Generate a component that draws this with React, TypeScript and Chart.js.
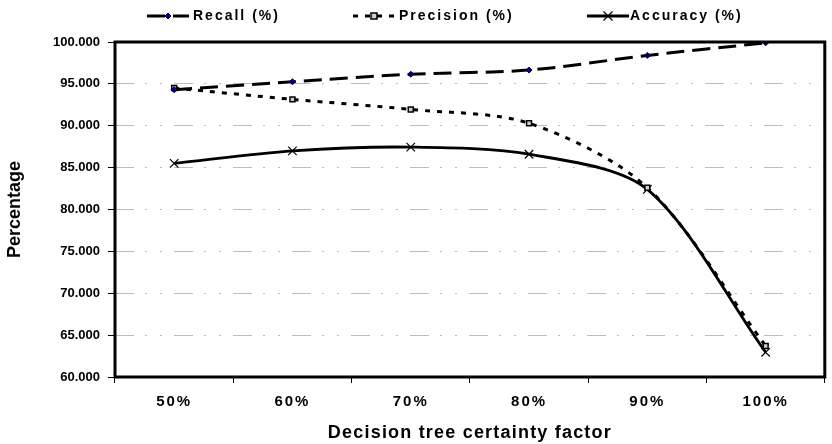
import React, { useEffect, useRef } from 'react';
import { Chart, registerables } from 'chart.js';

Chart.register(...registerables);

const categories = ['50%', '60%', '70%', '80%', '90%', '100%'];
const recall = [94.3, 95.25, 96.15, 96.65, 98.4, 99.9];
const precision = [94.5, 93.15, 91.95, 90.3, 82.6, 63.7];
const accuracy = [85.5, 87.0, 87.45, 86.6, 82.4, 62.95];
const seriesNames = ['Recall (%)', 'Precision (%)', 'Accuracy (%)'];
const yTicks = [60, 65, 70, 75, 80, 85, 90, 95, 100];
const xTitle = 'Decision tree certainty factor';
const yTitle = 'Percentage';

const FONT = "'Liberation Sans', Arial, sans-serif";

function drawMarker(ctx: CanvasRenderingContext2D, kind: number, x: number, y: number) {
  ctx.save();
  ctx.setLineDash([]);
  if (kind === 0) {
    ctx.fillStyle = '#000080';
    ctx.strokeStyle = '#000040';
    ctx.lineWidth = 1;
    ctx.beginPath();
    ctx.moveTo(x, y - 3);
    ctx.lineTo(x + 3, y);
    ctx.lineTo(x, y + 3);
    ctx.lineTo(x - 3, y);
    ctx.closePath();
    ctx.fill();
    ctx.stroke();
  } else if (kind === 1) {
    ctx.fillStyle = '#cfcfcf';
    ctx.strokeStyle = '#000';
    ctx.lineWidth = 1.5;
    ctx.fillRect(x - 3, y - 3, 6, 6);
    ctx.strokeRect(x - 3, y - 3, 6, 6);
  } else {
    ctx.strokeStyle = '#000';
    ctx.lineWidth = 1.2;
    ctx.beginPath();
    ctx.moveTo(x - 4.5, y - 4.5);
    ctx.lineTo(x + 4.5, y + 4.5);
    ctx.moveTo(x + 4.5, y - 4.5);
    ctx.lineTo(x - 4.5, y + 4.5);
    ctx.stroke();
  }
  ctx.restore();
}

const framePlugin = {
  id: 'frameAndLegend',
  beforeDraw(chart: any) {
    const sx = chart.scales.x;
    if (sx && !sx._spacingPatched) {
      const dl = sx.drawLabels.bind(sx);
      sx.drawLabels = (...args: any[]) => {
        chart.ctx.letterSpacing = '2px';
        dl(...args);
        chart.ctx.letterSpacing = '0px';
      };
      const dt = sx.drawTitle.bind(sx);
      sx.drawTitle = (...args: any[]) => {
        chart.ctx.letterSpacing = '1.2px';
        dt(...args);
        chart.ctx.letterSpacing = '0px';
      };
      sx._spacingPatched = true;
    }
  },
  afterDraw(chart: any) {
    const ctx: CanvasRenderingContext2D = chart.ctx;
    const a = chart.chartArea;
    ctx.save();
    ctx.strokeStyle = '#000';
    ctx.lineWidth = 3;
    ctx.setLineDash([]);
    ctx.strokeRect(a.left, a.top, a.right - a.left, a.bottom - a.top);
    ctx.restore();

    // legend
    const sampleX = [147, 353, 587];
    const textX = [193, 399, 630];
    const ly = 16;
    chart.data.datasets.forEach((ds: any, i: number) => {
      ctx.save();
      ctx.strokeStyle = '#000';
      ctx.lineWidth = 3;
      ctx.setLineDash(ds.borderDash || []);
      ctx.beginPath();
      ctx.moveTo(sampleX[i], ly);
      ctx.lineTo(sampleX[i] + 42, ly);
      ctx.stroke();
      ctx.restore();
      drawMarker(ctx, i, sampleX[i] + 21, ly);
      ctx.save();
      ctx.letterSpacing = '2px';
      ctx.font = `bold 14px ${FONT}`;
      ctx.fillStyle = '#000';
      ctx.textBaseline = 'middle';
      ctx.textAlign = 'left';
      ctx.fillText(ds.label, textX[i], ly);
      ctx.letterSpacing = '0px';
      ctx.restore();
    });
  },
};

export default function App() {
  const ref = useRef<HTMLCanvasElement>(null);
  useEffect(() => {
    if (!ref.current) return;
    const chart = new Chart(ref.current, {
      type: 'line',
      data: {
        labels: categories,
        datasets: [
          {
            label: seriesNames[0],
            data: recall,
            borderColor: '#000',
            borderWidth: 3,
            borderDash: [18, 8],
            borderCapStyle: 'butt',
            tension: 0.3,
            pointStyle: 'rectRot',
            pointRadius: 3,
            pointBackgroundColor: '#000080',
            pointBorderColor: '#000040',
            pointBorderWidth: 1,
            fill: false,
          },
          {
            label: seriesNames[1],
            data: precision,
            borderColor: '#000',
            borderWidth: 3,
            borderDash: [5, 7],
            borderCapStyle: 'butt',
            tension: 0.3,
            pointStyle: 'rect',
            pointRadius: 3.5,
            pointBackgroundColor: '#cfcfcf',
            pointBorderColor: '#000',
            pointBorderWidth: 1.5,
            fill: false,
          },
          {
            label: seriesNames[2],
            data: accuracy,
            borderColor: '#000',
            borderWidth: 2.8,
            tension: 0.3,
            pointStyle: 'crossRot',
            pointRadius: 6,
            pointBorderColor: '#000',
            pointBorderWidth: 1.2,
            fill: false,
          },
        ],
      },
      options: {
        responsive: false,
        animation: false,
        layout: { padding: { top: 42, right: 4, left: 0, bottom: 0 } },
        plugins: {
          legend: { display: false },
          tooltip: { enabled: false },
        },
        scales: {
          x: {
            type: 'category',
            offset: true,
            border: { display: false },
            grid: {
              offset: true,
              drawOnChartArea: false,
              drawTicks: true,
              tickLength: 6,
              tickColor: '#000',
              tickWidth: 1,
            },
            ticks: {
              color: '#000',
              font: { family: FONT, size: 15, weight: 'bold' },
              padding: 10,
              maxRotation: 0,
              autoSkip: false,
            },
            title: {
              display: true,
              text: xTitle,
              color: '#000',
              font: { family: FONT, size: 18, weight: 'bold' },
              padding: { top: 2, bottom: 0 },
            },
            afterFit: (s: any) => {
              s.height = 67;
            },
          },
          y: {
            min: yTicks[0],
            max: yTicks[yTicks.length - 1],
            border: { display: false, dash: [19, 11, 2, 13, 2, 12] },
            afterBuildTicks: (s: any) => {
              s.ticks = yTicks.map((v) => ({ value: v }));
            },
            grid: {
              color: '#bdbdbd',
              lineWidth: 1,
              tickBorderDash: [],
              tickColor: '#000',
              tickWidth: 1,
              tickLength: 7,
              drawTicks: true,
            },
            ticks: {
              color: '#000',
              font: { family: FONT, size: 13, weight: 'bold' },
              padding: 8,
              callback: (v: any) => Number(v).toFixed(3),
            },
            title: {
              display: true,
              text: yTitle,
              color: '#000',
              font: { family: FONT, size: 18, weight: 'bold' },
              padding: { top: 4, bottom: 0 },
            },
            afterFit: (s: any) => {
              s.width = 115;
            },
          },
        },
      },
      plugins: [framePlugin],
    } as any);
    return () => chart.destroy();
  }, []);
  return (
    <div style={{ position: 'absolute', left: 0, top: 0, width: 832, height: 444, background: '#fff' }}>
      <canvas ref={ref} width={832} height={444} style={{ display: 'block', width: 832, height: 444 }} />
    </div>
  );
}
